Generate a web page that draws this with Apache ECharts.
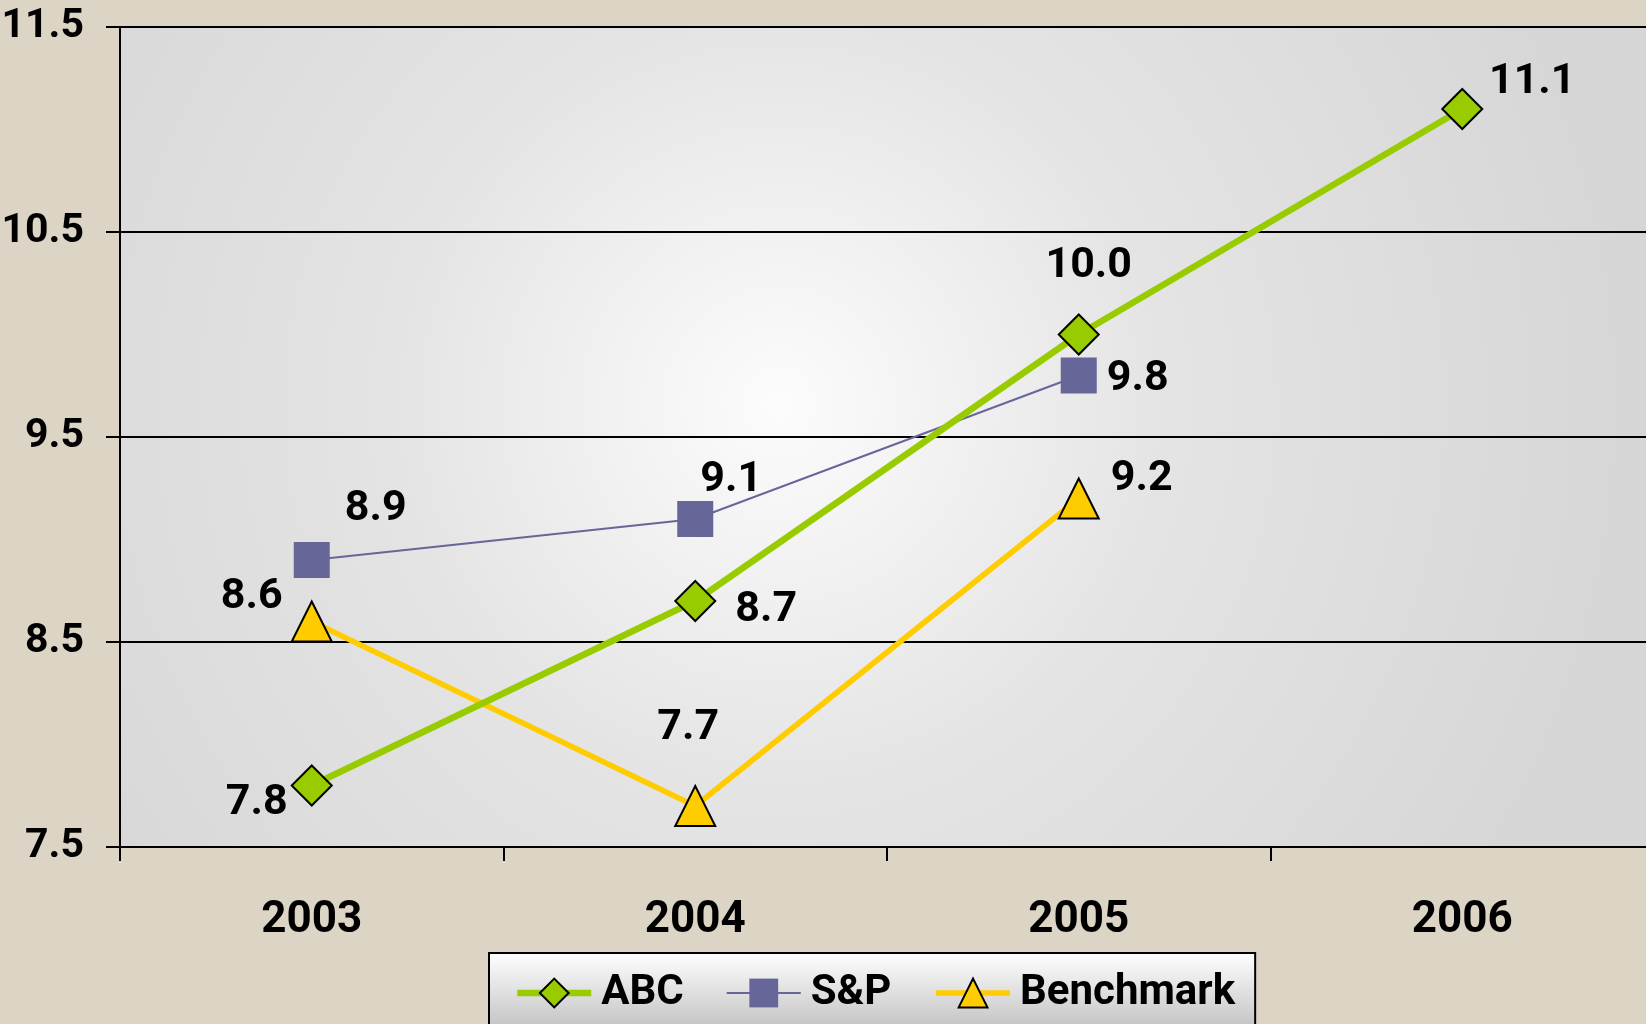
<!DOCTYPE html>
<html>
<head>
<meta charset="utf-8">
<style>
html, body { margin: 0; padding: 0; background: #DCD4C4; }
#chart { width: 1646px; height: 1024px; }
</style>
<script src="https://cdn.jsdelivr.net/npm/echarts@6/dist/echarts.min.js"></script>
</head>
<body>
<div id="chart"></div>
<script>
// ---- data ----
const categories = ['2003', '2004', '2005', '2006'];
const abcValues = [7.8, 8.7, 10.0, 11.1];
const spValues = [8.9, 9.1, 9.8, null];
const benchmarkValues = [8.6, 7.7, 9.2, null];
const yTickMin = 7.5;
const yTickMax = 11.5;
const yTickStep = 1;

// ---- styling (label offsets relative to the point) ----
const FONT = "Roboto, 'Liberation Sans', sans-serif";
const abcLabelOffsets = [[-55, 18], [71, 9], [10, -68], [70, -27]];
const spLabelOffsets = [[64, -51], [36, -39], [59, 4], [0, 0]];
const benchLabelOffsets = [[-60, -24], [-7, -78], [63, -19], [0, 0]];

function buildData(values, offsets) {
  return values.map((v, i) => v === null ? '-' : ({
    value: v,
    label: { offset: offsets[i] }
  }));
}

const labelStyle = {
  show: true,
  position: 'inside',
  align: 'center',
  verticalAlign: 'middle',
  color: '#000',
  fontFamily: FONT,
  fontWeight: 'bold',
  fontSize: 43,
  formatter: p => Number(p.value).toFixed(1)
};

const chart = echarts.init(document.getElementById('chart'), null, { renderer: 'canvas' });
chart.setOption({
  backgroundColor: '#DCD4C4',
  animation: false,
  grid: {
    left: 120, top: 27, right: -8, bottom: 177,
    outerBoundsMode: 'none',
    containLabel: false,
    show: true,
    borderWidth: 0,
    backgroundColor: {
      type: 'radial', x: 0.43, y: 0.46, r: 1.05,
      colorStops: [
        { offset: 0, color: '#FCFCFC' },
        { offset: 0.45, color: '#E4E4E4' },
        { offset: 1, color: '#D6D6D6' }
      ]
    }
  },
  legend: {
    left: 489, top: 953,
    padding: [19, 20, 20, 25],
    itemWidth: 74, itemHeight: 36, itemGap: 42,
    borderColor: '#000', borderWidth: 2,
    backgroundColor: {
      type: 'linear', x: 0, y: 0, x2: 0, y2: 1,
      colorStops: [{ offset: 0, color: '#FFFFFF' }, { offset: 1, color: '#BEBEBE' }]
    },
    textStyle: { fontFamily: FONT, fontWeight: 'bold', fontSize: 42, color: '#000', padding: [0, 0, 0, 5] },
    data: [
      { name: 'ABC', lineStyle: { width: 6.5 } },
      { name: 'S&P', lineStyle: { width: 2 } },
      { name: 'Benchmark', lineStyle: { width: 5.5 } }
    ]
  },
  xAxis: {
    type: 'category',
    data: categories,
    boundaryGap: true,
    axisLine: { lineStyle: { color: '#000', width: 2 } },
    axisTick: { show: true, length: 14, lineStyle: { color: '#000', width: 2 } },
    axisLabel: { margin: 52, color: '#000', fontFamily: FONT, fontWeight: 'bold', fontSize: 44 },
    splitLine: { show: false }
  },
  yAxis: {
    type: 'value',
    min: yTickMin, max: yTickMax, interval: yTickStep,
    axisLine: { show: true, lineStyle: { color: '#000', width: 2 } },
    axisTick: { show: true, length: 14, lineStyle: { color: '#000', width: 2 } },
    axisLabel: { margin: 36, color: '#000', fontFamily: FONT, fontWeight: 'bold', fontSize: 41,
      formatter: v => v.toFixed(1) },
    splitLine: { show: true, lineStyle: { color: '#000', width: 2 } }
  },
  series: [
    {
      name: 'S&P', type: 'line', z: 2,
      data: buildData(spValues, spLabelOffsets),
      symbol: 'rect', symbolSize: 36,
      lineStyle: { color: '#666699', width: 2 },
      itemStyle: { color: '#666699', borderColor: '#666699', borderWidth: 0 },
      label: labelStyle
    },
    {
      name: 'Benchmark', type: 'line', z: 3,
      data: buildData(benchmarkValues, benchLabelOffsets),
      symbol: 'triangle', symbolSize: [40, 40],
      lineStyle: { color: '#FFCC00', width: 5.5 },
      itemStyle: { color: '#FFCC00', borderColor: '#000', borderWidth: 2 },
      label: labelStyle
    },
    {
      name: 'ABC', type: 'line', z: 4,
      data: buildData(abcValues, abcLabelOffsets),
      symbol: 'diamond', symbolSize: [40, 40],
      lineStyle: { color: '#99CC00', width: 6.5 },
      itemStyle: { color: '#99CC00', borderColor: '#000', borderWidth: 2 },
      label: labelStyle
    }
  ]
});
</script>
</body>
</html>
